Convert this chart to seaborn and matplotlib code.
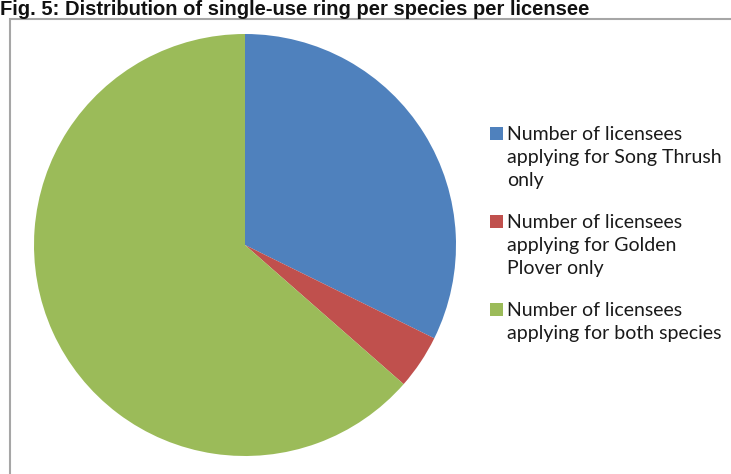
import matplotlib
matplotlib.use("Agg")
import matplotlib.pyplot as plt
import matplotlib.patches as mpatches
import seaborn as sns

# licensees per category
categories = ["Number of licensees\napplying for Song Thrush\nonly",
              "Number of licensees\napplying for Golden\nPlover only",
              "Number of licensees\napplying for both species"]
counts = [31, 4, 61]
colours = ["#4F81BD", "#C0504D", "#9BBB59"]
title = "Fig. 5: Distribution of single-use ring per species per licensee"

sns.set_style("white")
plt.rcParams['font.family'] = ['Lato', 'DejaVu Sans']

W, H = 731, 474
fig = plt.figure(figsize=(W / 100, H / 100), dpi=100)

# grey chart frame, cut off at right and bottom
frame = mpatches.Rectangle((10 / W, -0.05), 1.0, (H - 19) / H + 0.05,
                           transform=fig.transFigure, fill=False,
                           edgecolor="#a6a6a6", linewidth=1.5)
fig.patches.append(frame)

fig.text(0.0, (H - 15) / H, title, fontsize=14.5, fontweight="bold",
         family="Liberation Sans", ha="left", va="baseline", color="#111111")

cx, cy, r = 245, 245, 211
ax = fig.add_axes([(cx - r) / W, (H - cy - r) / H, 2 * r / W, 2 * r / H])
ax.pie(counts, colors=colours, startangle=90, counterclock=False,
       wedgeprops=dict(linewidth=0))
ax.set_xlim(-1, 1)
ax.set_ylim(-1, 1)
ax.set_aspect("equal")
ax.axis("off")

# legend: square key beside the first line of each label
line_h = 23
for i, (lab, col) in enumerate(zip(categories, colours)):
    base = 140 + 88 * i
    last = base + line_h * lab.count("\n")
    fig.patches.append(mpatches.Rectangle((490 / W, (H - base) / H), 13 / W, 13 / H,
                                          transform=fig.transFigure,
                                          facecolor=col, edgecolor="none"))
    fig.text(507 / W, (H - last) / H, lab, fontsize=14, ha="left",
             va="baseline", linespacing=1.42, color="#1a1a1a")

fig.savefig("out.png", dpi=100)
